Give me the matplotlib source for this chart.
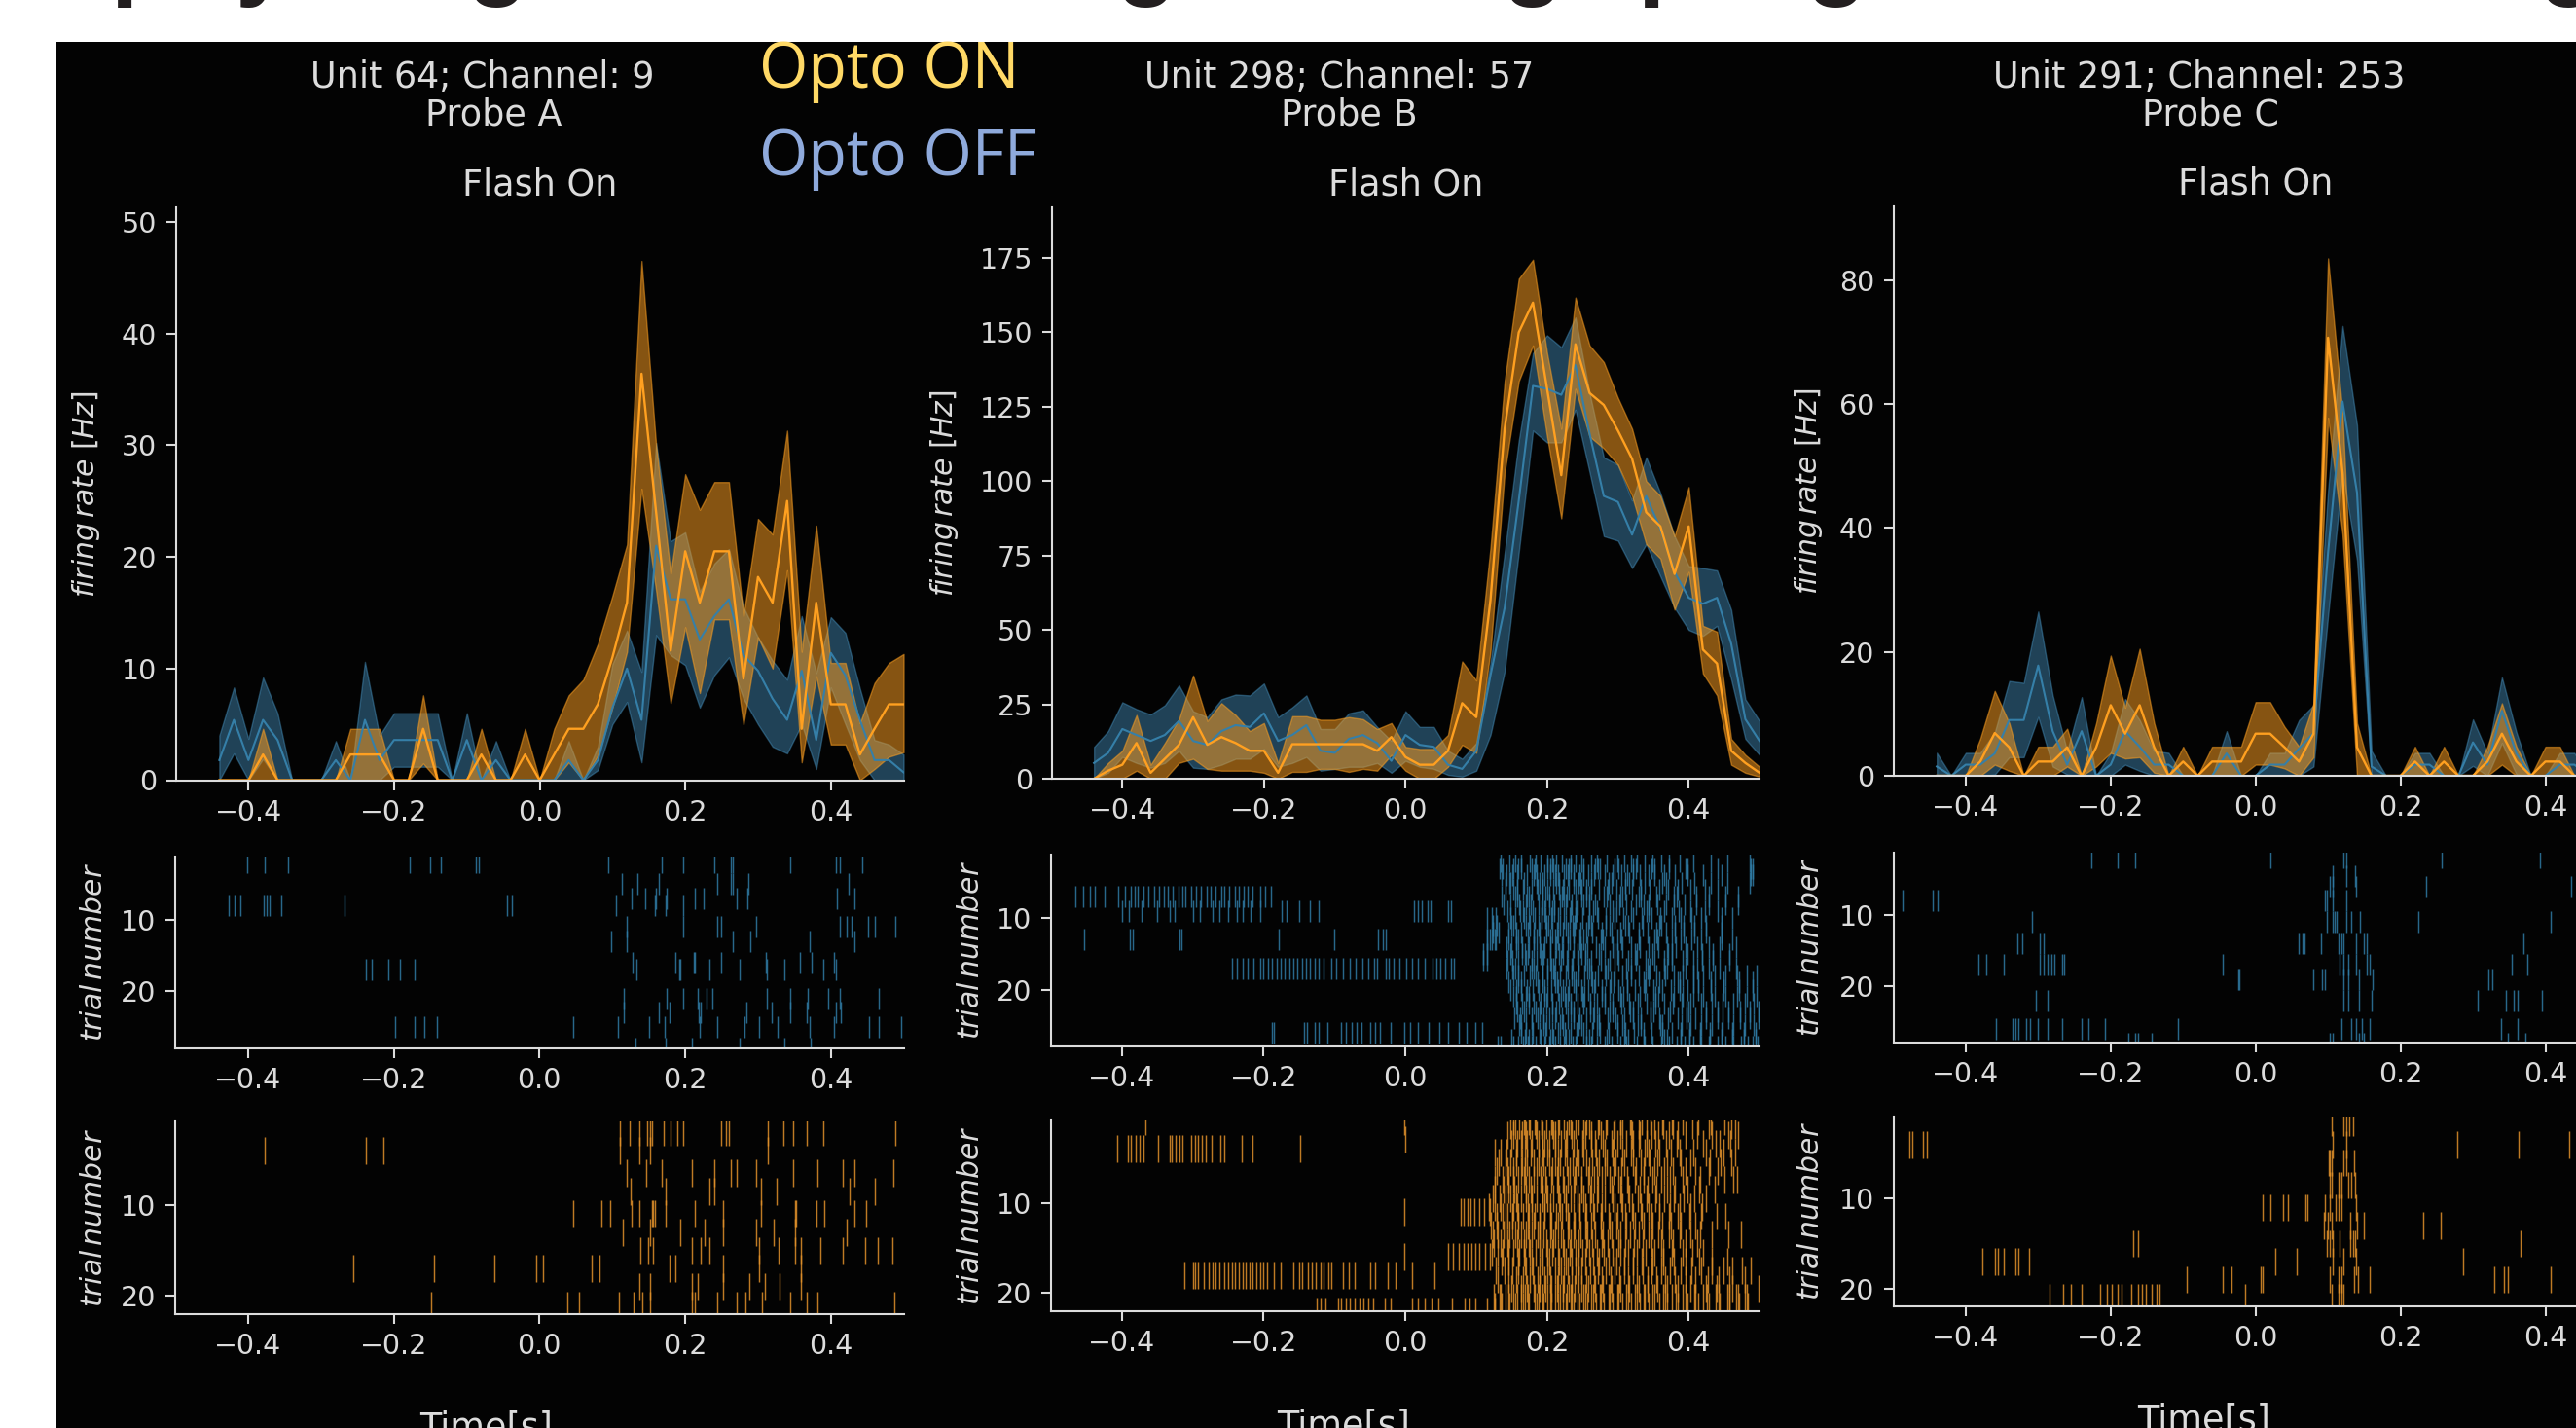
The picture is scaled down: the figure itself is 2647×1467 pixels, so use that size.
import matplotlib
matplotlib.use('Agg')
import matplotlib.pyplot as plt
from matplotlib.patches import Rectangle

W, H = 2647, 1467
BG = '#030303'
FG = '#dcdcdc'
BLUE = '#4a9bcc'
BLUE_LINE = '#357fa8'
ORANGE = '#ffa020'
BLUE_TICK = '#2f7aa3'
ORANGE_TICK = '#e0902a'

time_bins = [-0.44, -0.42, -0.40, -0.38, -0.36, -0.34, -0.32, -0.30, -0.28, -0.26, -0.24, -0.22,
             -0.20, -0.18, -0.16, -0.14, -0.12, -0.10, -0.08, -0.06, -0.04, -0.02, 0.00, 0.02,
             0.04, 0.06, 0.08, 0.10, 0.12, 0.14, 0.16, 0.18, 0.20, 0.22, 0.24, 0.26,
             0.28, 0.30, 0.32, 0.34, 0.36, 0.38, 0.40, 0.42, 0.44, 0.46, 0.48, 0.50]

# firing rate, probe A
a_off_mean = [1.8, 5.4, 1.8, 5.4, 3.6, 0, 0, 0, 1.8, 0, 5.4, 1.8,
              3.6, 3.6, 3.6, 3.6, 0, 3.6, 0, 1.8, 0, 0, 0, 0,
              1.8, 0, 1.8, 6.5, 10, 5.4, 21, 16.2, 16.2, 12.6, 14.7, 16.2,
              11.2, 9.8, 7.3, 5.4, 9.8, 3.6, 11.4, 9.4, 5.4, 1.8, 1.8, 0.7]
a_off_up = [4, 8.3, 3.7, 9.2, 6, 0, 0, 0, 3.5, 0, 10.6, 4,
            6, 6, 6, 6, 0, 6, 0, 3.5, 0, 0, 0, 0,
            3.5, 0, 3, 10.4, 13.4, 9.7, 30.2, 21.4, 22.2, 16.9, 19.4, 20.7,
            15.5, 12.8, 10.7, 9, 14.7, 9.6, 14.6, 13.2, 8.2, 3.6, 3.2, 2.3]
a_off_low = [0, 2.4, 0, 1.9, 0, 0, 0, 0, 0, 0, 0, 0,
             1.2, 1.2, 1.2, 1.2, 0, 0, 0, 0, 0, 0, 0, 0,
             0, 0, 0.9, 5, 7, 1.6, 13, 11.2, 10.3, 6.5, 9.4, 11,
             7.3, 5, 3, 2.4, 5, 1, 8.3, 5, 1.8, 0, 0, 0]
a_on_mean = [0, 0, 0, 2.3, 0, 0, 0, 0, 0, 2.3, 2.3, 2.3,
             0, 0, 4.6, 0, 0, 0, 2.3, 0, 0, 2.3, 0, 2.3,
             4.6, 4.6, 6.8, 11, 15.9, 36.4, 24, 11.6, 20.5, 15.9, 20.5, 20.5,
             9.1, 18.2, 15.9, 25, 4.6, 15.9, 6.8, 6.8, 2.3, 4.6, 6.8, 6.8]
a_on_up = [0, 0, 0, 4.6, 0, 0, 0, 0, 0, 4.6, 4.6, 4.6,
           0, 0, 7.6, 0, 0, 0, 4.6, 0, 0, 4.6, 0, 4.6,
           7.6, 9, 12.2, 16.5, 21.1, 46.5, 30, 18.5, 27.4, 24.2, 26.7, 26.7,
           14.7, 23.4, 22, 31.3, 11.5, 22.8, 10.5, 10.5, 5.1, 8.7, 10.5, 11.3]
a_on_low = [0, 0, 0, 0, 0, 0, 0, 0, 0, 0, 0, 0,
            0, 0, 1.5, 0, 0, 0, 0, 0, 0, 0, 0, 0,
            1.6, 0, 2.2, 6.5, 11.5, 26.1, 17, 6.9, 13.7, 7.8, 14.4, 14.4,
            5, 12.8, 10, 18.8, 1.6, 9.3, 3.2, 3.2, 0, 1, 2.1, 2.5]

# firing rate, probe B
b_off_mean = [5.3, 8.7, 16.7, 14.7, 12.7, 14.7, 19.4, 12.7, 11.4, 16, 18, 17.4,
              22, 12.7, 14.7, 18, 9.4, 8.7, 13.4, 14.7, 12, 6, 14.7, 11.4,
              10.7, 4.7, 3.3, 9.4, 34.7, 57.4, 93.5, 132, 131, 129, 139, 116,
              95, 93, 82, 95, 84, 69.5, 60.8, 58.8, 60.8, 45.4, 20, 12.7]
b_off_up = [10.7, 16, 25.7, 23.4, 21.6, 24.7, 31.4, 22.7, 20.7, 26.7, 28.3, 28,
            32, 20.7, 24, 28, 16.7, 16.7, 22, 23, 17.4, 12.7, 22.7, 17.4,
            17.4, 9.4, 6.7, 12, 38.7, 76, 113.6, 143, 149, 145, 155, 129.6,
            108, 105.5, 93.5, 108, 96, 81.5, 71.5, 70.8, 70, 56.8, 26.7, 19.4]
b_off_low = [0, 2, 7.3, 5.3, 3.7, 5.3, 9.4, 3.7, 3.3, 4.7, 6.7, 6.7,
             10, 4, 5.3, 7.3, 2.7, 3.3, 4, 4, 5.3, 2, 6, 4,
             3.3, 1.3, 0.7, 2.7, 14.7, 36, 76, 117, 113, 113, 124, 103,
             81.5, 80, 70.8, 78.8, 68, 57.4, 50, 48, 51.4, 33.4, 13.4, 8]
b_on_mean = [0, 2.7, 4.7, 12, 2, 6.7, 11.4, 20.7, 11.4, 14, 12, 9.4,
             9.4, 2, 11.6, 11.6, 11.6, 11.6, 11.6, 11.6, 9.4, 14, 7.3, 4.7,
             4.7, 9.4, 25.4, 20.7, 60, 117.6, 150, 160, 131, 102, 146, 129.6,
             125.6, 117, 107.5, 89.5, 84.8, 68.8, 84.8, 43.4, 38.7, 9.4, 5.3, 2]
b_on_up = [0, 5.3, 9.4, 21.4, 4.7, 12, 20, 34.7, 19.4, 25.4, 21.4, 16,
           18.7, 5.3, 21, 21, 19.8, 19.8, 20.7, 20, 16.7, 18.7, 10.7, 10,
           10, 14.7, 39.4, 33, 77.5, 133.6, 168, 174.4, 143, 117.6, 161.7, 145.6,
           140, 128, 117.6, 100, 95, 81.5, 98, 51.4, 49.4, 13.4, 8, 4]
b_on_low = [0, 0, 0, 2.7, 0, 0, 5.3, 6.7, 3.3, 2.7, 2.7, 2.7,
            2, 0, 2.3, 2.3, 3.3, 3.3, 2.3, 3.3, 2.7, 8, 2.7, 0,
            0, 4, 11.4, 8.7, 42.8, 103, 133.6, 145.6, 115, 87.5, 131, 115,
            111, 105.5, 95, 78.8, 74, 56.8, 69.5, 35.4, 28, 4.7, 2, 0.7]

# firing rate, probe C (runs off the right edge of the picture)
c_off_mean = [1.5, 0, 1.8, 1.8, 3.6, 9, 9, 17.8, 7.2, 1.8, 7.2, 0,
              1.8, 7.2, 4.7, 1.8, 1.8, 0, 0, 0, 3.6, 0, 0, 1.8,
              1.8, 4.4, 6.9, 36, 60.4, 45.7, 1.5, 0, 0, 1.8, 1.8, 0,
              0, 5.4, 1.8, 10.5, 3.6, 0, 0, 1.8, 1.8, 0]
c_off_up = [3.7, 0, 3.7, 3.7, 7, 15.3, 15, 26.5, 13, 4, 12.7, 0,
            3.7, 12.4, 9, 4, 3.7, 0, 0, 0, 7.2, 0, 0, 3.7,
            3.7, 9, 11.4, 46, 72.6, 56.6, 4, 0, 0, 3.7, 3.7, 0,
            0, 9.1, 3.7, 15.9, 7, 0, 0, 3.7, 3.7, 0]
c_off_low = [0, 0, 0, 0, 0.2, 3, 3, 9.5, 1.5, 0.2, 0, 0,
             0, 1.8, 0.8, 0, 0, 0, 0, 0, 0, 0, 0, 0,
             0, 0, 1.5, 25.8, 49, 34.8, 0, 0, 0, 0, 0, 0,
             0, 1.6, 0, 5.3, 0.2, 0, 0, 0, 0, 0]
c_on_mean = [0, 0, 0, 2.3, 6.9, 4.6, 0, 2.3, 2.3, 4.6, 0, 4.6,
             11.4, 6.8, 11.4, 4.6, 0, 2.3, 0, 2.3, 2.3, 2.3, 6.8, 6.8,
             4.6, 2.3, 6.8, 70.7, 49, 4.6, 0, 0, 0, 2.3, 0, 2.3,
             0, 0, 2.3, 6.8, 2.3, 0, 2.3, 2.3, 0, 0]
c_on_up = [0, 0, 0, 6, 13.7, 8.5, 0, 4.7, 4.7, 7.6, 0, 8.5,
           19.4, 11, 20.5, 8.5, 0, 4.7, 0, 4.7, 4.7, 4.7, 11.9, 11.9,
           7.9, 4.7, 11.7, 83.5, 58.5, 8.5, 0, 0, 0, 4.7, 0, 4.7,
           0, 0, 4.7, 11.7, 4.7, 0, 4.7, 4.7, 0, 0]
c_on_low = [0, 0, 0, 0, 1.8, 0.8, 0, 0, 0, 1.5, 0, 1.5,
            3.7, 2.8, 3, 0.5, 0, 0, 0, 0, 0, 0, 1.8, 1.8,
            1.2, 0, 3, 57.8, 39, 0, 0, 0, 0, 0, 0, 0,
            0, 0, 0, 1.8, 0, 0, 0, 0, 0, 0]

# raster rows (trial) and spike times in ms
a_off_rows = [2, 5, 7, 8, 11, 13, 16, 17, 21, 23, 25, 28]
a_off_spikes = [
    [-401, -377, -345, -178, -150, -135, -87, -83, 95, 168, 198, 240, 263, 266, 344, 407, 413, 443],
    [113, 134, 164, 244, 263, 265, 287, 424],
    [126, 145, 160, 175, 214, 225, 271, 286, 409, 432],
    [-426, -418, -410, -379, -374, -370, -355, -267, -44, -38, 105, 158, 174, 198],
    [120, 198, 244, 250, 298, 413, 422, 428, 451, 460, 489],
    [99, 120, 266, 290, 371, 432],
    [128, 187, 212, 214, 250, 311, 358, 374, 404],
    [-238, -230, -208, -192, -172, 133, 192, 194, 233, 275, 312, 336, 390, 407],
    [116, 175, 197, 217, 229, 237, 312, 344, 368, 396, 413, 466],
    [116, 164, 179, 219, 221, 284, 319, 344, 367, 407, 414],
    [-198, -172, -158, -140, 47, 108, 150, 172, 220, 244, 281, 302, 327, 371, 405, 453, 466, 497],
    [132, 174, 210, 275, 336, 373],
]
a_on_rows = [2, 4, 6.5, 8.5, 11, 13, 15, 17, 19, 21]
a_on_spikes = [
    [110, 124, 137, 148, 152, 155, 171, 180, 190, 198, 250, 256, 260, 313, 335, 348, 367, 390, 489],
    [-377, -238, -214, 110, 137, 152, 313],
    [120, 146, 168, 210, 240, 263, 271, 298, 348, 382, 416, 432, 486],
    [125, 174, 233, 240, 304, 325, 426, 460],
    [47, 85, 97, 126, 137, 154, 156, 158, 174, 214, 252, 304, 351, 353, 381, 391, 432, 449],
    [114, 152, 194, 227, 252, 298, 321, 351, 422],
    [139, 149, 156, 210, 221, 233, 301, 328, 351, 359, 386, 417, 447, 465, 485],
    [-255, -145, -62, -5, 5, 72, 82, 179, 187, 252, 301, 359],
    [137, 152, 210, 217, 252, 288, 310, 329, 359],
    [-148, 39, 54, 109, 129, 141, 152, 210, 214, 244, 271, 283, 305, 344, 367, 382, 487],
]

b_off_rows = [7, 9, 13, 17, 26,
              4, 2, 8, 6, 12, 10, 16, 14, 20, 18, 24, 22, 26, 28,
              3, 5, 7, 9, 11, 13, 15, 17, 19, 21, 23, 25, 27, 28]
b_off_spikes = [
    [-465, -455, -445, -438, -425, -405, -395, -388, -382, -378, -370, -362, -355, -348, -340, -335, -328, -320, -315, -310, -302, -296, -288, -280, -275, -268, -260, -255, -248, -240, -235, -228, -222, -215, -205, -198, -190],
    [-400, -390, -372, -350, -333, -325, -300, -290, -272, -262, -250, -238, -230, -218, -205, -175, -168, -150, -135, -122, 12, 18, 24, 32, 36, 60, 65],
    [-453, -389, -384, -319, -316, -178, -100, -38, -31, -27, 115, 120, 126],
    [-244, -238, -230, -222, -214, -205, -200, -194, -188, -182, -176, -170, -164, -158, -152, -146, -140, -134, -128, -122, -115, -105, -98, -88, -78, -70, -60, -52, -44, -40, -28, -24, -16, -8, 2, 10, 18, 28, 38, 44, 50, 56, 64, 68],
    [-188, -185, -143, -139, -128, -122, -110, -90, -84, -76, -68, -62, -50, -42, -36, -21, -1, 7, 18, 33, 48, 61, 76, 86, 99, 109],
    [136, 143, 151, 158, 172, 181, 186, 197, 204, 211, 216, 224, 229, 238, 246, 251, 258, 266, 281, 292, 305, 313, 322, 331, 344, 352, 366, 381, 398, 421, 447, 487, 491],
    [134, 147, 155, 163, 176, 184, 191, 200, 208, 213, 221, 233, 241, 249, 262, 271, 284, 299, 309, 318, 327, 338, 349, 361, 372, 388, 407, 432, 455, 486],
    [139, 149, 161, 170, 177, 188, 194, 203, 210, 218, 226, 235, 243, 252, 260, 268, 289, 302, 312, 325, 336, 343, 356, 368, 379, 394, 411, 428, 452, 470],
    [141, 152, 158, 166, 179, 187, 193, 201, 209, 217, 223, 231, 240, 248, 256, 263, 273, 286, 298, 311, 320, 333, 345, 359, 371, 384, 402, 423, 441],
    [124, 132, 146, 156, 164, 173, 182, 190, 199, 207, 214, 222, 230, 237, 247, 255, 264, 278, 291, 303, 316, 329, 342, 355, 368, 380, 393, 408, 425, 447],
    [116, 122, 128, 148, 155, 167, 175, 183, 192, 198, 206, 215, 224, 232, 241, 250, 259, 272, 283, 296, 308, 321, 334, 347, 360, 377, 389, 404, 418, 446, 462],
    [110, 116, 144, 151, 159, 170, 178, 186, 194, 205, 212, 220, 228, 236, 245, 254, 263, 276, 288, 301, 314, 326, 339, 351, 365, 376, 391, 407, 419, 434, 458],
    [143, 150, 157, 165, 174, 181, 189, 196, 204, 213, 221, 229, 238, 247, 257, 269, 281, 293, 306, 319, 331, 344, 357, 369, 382, 395, 412, 428, 443, 467],
    [148, 156, 164, 172, 180, 188, 197, 206, 215, 223, 231, 240, 249, 258, 267, 277, 289, 301, 313, 324, 338, 350, 362, 375, 387, 399, 414, 431, 449, 471, 490],
    [152, 160, 168, 176, 184, 193, 201, 210, 219, 227, 235, 244, 253, 262, 272, 283, 295, 307, 318, 330, 343, 355, 367, 379, 392, 406, 421, 437, 452, 468, 482, 496],
    [154, 162, 170, 179, 187, 195, 203, 212, 221, 229, 237, 246, 255, 265, 274, 286, 297, 309, 321, 333, 346, 358, 371, 384, 397, 410, 424, 441, 456, 473, 486, 499],
    [157, 165, 174, 182, 191, 199, 208, 217, 226, 234, 243, 251, 261, 270, 282, 293, 305, 316, 328, 341, 353, 365, 378, 390, 403, 417, 433, 448, 463, 479, 492],
    [163, 171, 180, 190, 198, 207, 216, 225, 233, 242, 252, 264, 275, 287, 299, 311, 323, 336, 348, 363, 376, 389, 401, 416, 430, 447, 461, 478, 494],
    [131, 152, 166, 173, 184, 196, 211, 224, 241, 256, 271, 291, 304, 327, 349, 372, 394, 417, 441, 463, 484, 497],
    [133, 137, 152, 160, 163, 178, 183, 201, 205, 209, 226, 231, 234, 252, 268, 272, 275, 296, 301, 322, 326, 347, 351, 372, 395, 399, 441, 487, 491],
    [141, 147, 149, 168, 186, 190, 194, 213, 217, 238, 244, 247, 263, 287, 291, 311, 316, 338, 362, 368, 390, 408, 432, 455, 486],
    [136, 155, 158, 172, 175, 198, 203, 221, 224, 228, 249, 256, 259, 280, 284, 303, 307, 330, 333, 355, 379, 383, 411, 428, 452, 470],
    [144, 162, 166, 180, 192, 196, 207, 210, 233, 240, 242, 265, 270, 293, 298, 318, 341, 344, 366, 386, 402, 423, 441],
    [124, 129, 150, 153, 170, 176, 188, 199, 202, 219, 227, 236, 239, 258, 262, 283, 289, 310, 314, 335, 358, 361, 380, 393, 408, 425, 447],
    [116, 122, 128, 146, 157, 160, 181, 185, 204, 212, 215, 232, 246, 251, 276, 279, 300, 305, 329, 352, 356, 377, 389, 404, 418, 446, 462],
    [110, 116, 148, 165, 169, 173, 191, 195, 217, 222, 243, 248, 254, 273, 296, 299, 324, 327, 349, 371, 376, 398, 419, 434, 458],
    [143, 151, 155, 178, 182, 200, 206, 209, 230, 235, 257, 260, 281, 286, 312, 319, 342, 345, 365, 369, 395, 412, 428, 443, 467],
    [146, 159, 163, 187, 193, 211, 214, 237, 241, 264, 268, 290, 294, 313, 336, 339, 359, 384, 387, 406, 414, 431, 449, 471, 490],
    [152, 156, 171, 175, 197, 201, 220, 225, 229, 250, 253, 277, 282, 304, 308, 331, 353, 357, 379, 392, 406, 421, 437, 452, 468, 482, 496],
    [158, 167, 184, 189, 208, 213, 234, 237, 261, 266, 288, 292, 317, 321, 346, 350, 374, 397, 400, 424, 441, 456, 473, 486, 499],
    [161, 164, 179, 195, 199, 218, 223, 245, 249, 271, 274, 300, 306, 328, 333, 360, 363, 390, 403, 417, 433, 448, 463, 479, 492],
    [150, 169, 174, 191, 205, 209, 226, 231, 255, 259, 285, 309, 315, 337, 366, 370, 389, 401, 416, 430, 447, 461, 478, 494],
    [135, 159, 178, 203, 219, 236, 263, 281, 312, 338, 361, 383, 406, 429, 452, 474, 491],
]
b_on_rows = [1, 3, 4, 11, 16, 18, 22,
             3.5, 1.5, 7.5, 5.5, 11.5, 9.5, 15.5, 13.5, 19.5, 17.5, 21.5, 20.5,
             1, 2.5, 4.5, 6.5, 8.5, 10.5, 12.5, 14.5, 16.5, 18.5, 20.5]
b_on_spikes = [
    [-367, -2],
    [0],
    [-407, -392, -388, -380, -375, -370, -349, -333, -330, -324, -318, -314, -302, -297, -292, -287, -282, -273, -261, -255, -231, -216, -148],
    [-2, 78, 82, 88, 92, 97, 105, 111, 120],
    [-2, 61, 67, 75, 82, 88, 94, 99, 105, 112, 120],
    [-312, -300, -297, -293, -285, -278, -272, -268, -262, -256, -250, -245, -240, -235, -230, -225, -220, -215, -210, -205, -200, -195, -185, -176, -158, -150, -145, -138, -132, -126, -120, -115, -108, -104, -88, -80, -72, -50, -42, -25, -14, 10, 41],
    [-125, -120, -112, -95, -91, -84, -78, -72, -65, -59, -52, -46, -29, -21, 9, 18, 28, 37, 47, 66, 84, 90, 99, 116, 126],
    [150, 158, 163, 172, 179, 188, 197, 203, 212, 220, 226, 238, 250, 262, 268, 279, 291, 299, 312, 322, 330, 341, 353, 368, 383, 420, 438, 444, 459],
    [148, 155, 161, 169, 176, 184, 192, 199, 207, 216, 224, 233, 241, 252, 260, 272, 283, 295, 306, 318, 329, 340, 352, 364, 378, 405, 428, 460, 466],
    [127, 138, 146, 153, 160, 167, 175, 182, 191, 198, 206, 214, 222, 230, 239, 248, 258, 267, 278, 289, 301, 313, 324, 336, 349, 361, 374, 391, 416, 451, 463, 468],
    [132, 141, 149, 157, 165, 172, 181, 188, 195, 203, 211, 219, 228, 236, 245, 255, 264, 274, 285, 297, 309, 321, 333, 345, 356, 370, 389, 403, 430, 445, 460],
    [129, 137, 144, 151, 159, 166, 174, 183, 190, 197, 205, 213, 221, 229, 237, 246, 256, 266, 276, 287, 299, 310, 322, 334, 347, 359, 372, 385, 401, 418, 440, 452],
    [124, 133, 141, 148, 156, 163, 170, 178, 186, 194, 201, 209, 217, 226, 234, 243, 252, 261, 271, 282, 293, 305, 316, 328, 340, 353, 366, 379, 393, 408, 425],
    [122, 130, 138, 146, 153, 161, 168, 176, 184, 192, 200, 208, 216, 224, 232, 241, 250, 260, 270, 280, 292, 303, 315, 327, 339, 351, 364, 377, 391, 405, 421],
    [124, 131, 139, 147, 155, 163, 171, 179, 187, 195, 204, 212, 220, 229, 238, 247, 257, 268, 279, 291, 304, 317, 330, 343, 357, 372, 387, 403, 416, 433, 456, 474],
    [150, 163, 172, 181, 190, 198, 206, 214, 222, 231, 239, 248, 258, 268, 279, 291, 303, 316, 329, 342, 356, 369, 384, 402, 425, 440, 462, 498],
    [128, 140, 151, 160, 171, 180, 190, 200, 211, 220, 229, 240, 249, 261, 272, 283, 296, 309, 322, 335, 347, 361, 374, 389, 404, 418, 433, 449, 461, 475, 487],
    [127, 136, 147, 155, 166, 175, 186, 195, 206, 216, 226, 237, 246, 257, 269, 280, 293, 306, 318, 331, 344, 358, 370, 385, 399, 413, 428, 444, 457, 471, 484],
    [125, 134, 145, 158, 169, 183, 194, 204, 218, 228, 235, 251, 263, 276, 289, 301, 314, 327, 338, 352, 367, 382, 396, 410, 426, 442, 458, 470, 482],
    [153, 167, 175, 183, 192, 206, 217, 231, 244, 256, 273, 285, 303, 317, 334, 346, 362, 376, 392, 413, 431, 451],
    [144, 152, 165, 171, 186, 193, 209, 211, 228, 235, 254, 263, 276, 294, 304, 320, 331, 347, 357, 372, 385, 396, 412, 433, 456, 470],
    [126, 135, 143, 156, 169, 177, 194, 200, 216, 225, 242, 251, 269, 281, 292, 307, 319, 338, 343, 358, 375, 388, 406, 425, 449, 466],
    [129, 144, 152, 163, 169, 186, 192, 208, 215, 232, 241, 259, 270, 282, 294, 305, 326, 337, 351, 365, 378, 395, 410, 428, 441],
    [127, 139, 146, 154, 170, 177, 193, 199, 215, 224, 238, 249, 263, 272, 291, 303, 314, 331, 342, 355, 369, 381, 398, 415, 437],
    [118, 127, 135, 152, 158, 173, 179, 196, 204, 219, 227, 246, 254, 265, 278, 295, 307, 320, 332, 344, 358, 373, 387, 402, 419],
    [121, 129, 142, 151, 160, 173, 181, 190, 206, 215, 231, 239, 254, 263, 276, 288, 298, 312, 324, 336, 349, 362, 375, 389, 410],
    [125, 135, 144, 158, 167, 174, 190, 199, 209, 222, 233, 245, 255, 264, 277, 286, 301, 311, 323, 335, 348, 361, 378, 395, 412],
    [136, 146, 159, 169, 178, 194, 203, 217, 226, 235, 244, 254, 265, 274, 287, 298, 309, 321, 334, 349, 364, 379, 396, 415, 433, 454],
    [131, 145, 156, 166, 176, 187, 197, 205, 216, 224, 235, 245, 256, 266, 278, 290, 302, 315, 327, 342, 354, 367, 381, 396, 410, 427, 442, 458, 480],
    [133, 142, 153, 163, 173, 188, 200, 212, 222, 233, 243, 254, 265, 275, 287, 299, 312, 324, 336, 349, 364, 377, 392, 408, 421, 438, 454, 467, 479],
]

c_off_rows = [2, 4.5, 6, 8, 11, 14, 17, 19, 22, 26, 28]
c_off_spikes = [
    [-227, -191, -166, 20, 121, 125, 257, 393],
    [106, 125, 137],
    [103, 107, 139, 236, 436],
    [-487, -445, -439, 96, 99, 107, 125],
    [-309, 99, 107, 109, 112, 125, 132, 144, 225, 407],
    [-329, -322, -298, -293, 60, 65, 68, 91, 114, 118, 121, 139, 150, 154, 370],
    [-382, -372, -347, -298, -293, -287, -282, -278, -267, -264, -46, 116, 121, 128, 139, 154, 158, 354, 375],
    [-24, -22, 79, 92, 96, 121, 128, 143, 161, 321, 327],
    [-303, -287, 121, 128, 143, 160, 306, 346, 356, 361, 395],
    [-358, -336, -332, -327, -317, -311, -300, -287, -267, -240, -231, -208, -107, 118, 132, 139, 147, 158, 339, 361],
    [-176, -166, -162, -144, 102, 107, 143, 150, 348, 373],
]
c_on_rows = [1.5, 4, 6, 8.5, 11, 13, 15, 17, 19, 21]
c_on_spikes = [
    [105, 121, 125, 129, 134],
    [-478, -474, -459, -454, 107, 125, 279, 363, 433],
    [101, 103, 105, 121, 125, 136],
    [102, 105, 114, 116, 119, 128, 132, 137],
    [10, 20, 38, 44, 69, 72, 96, 103, 110, 114, 118, 139],
    [95, 100, 105, 130, 140, 150, 232, 256],
    [-169, -162, 98, 103, 107, 116, 131, 134, 138, 366],
    [-377, -360, -356, -348, -332, -327, -313, 27, 57, 107, 121, 139, 287],
    [-95, -46, -33, 7, 10, 103, 114, 119, 136, 142, 158, 330, 343, 348, 407],
    [-284, -266, -255, -240, -215, -205, -198, -191, -185, -171, -162, -157, -152, -144, -136, -132, -15, 105, 114, 118, 121],
]

x_ticks = [-0.4, -0.2, 0.0, 0.2, 0.4]
heading_glyphs = ['p', 'y', 'g', 'g', 'g', 'p', 'g', 'g']
unit_titles = ['Unit 64; Channel: 9', 'Unit 298; Channel: 57', 'Unit 291; Channel: 253']
probe_titles = ['Probe A', 'Probe B', 'Probe C']


def px_axes(fig, left, top, right, bottom):
    ax = fig.add_axes([left / W, 1 - bottom / H, (right - left) / W, (bottom - top) / H])
    ax.patch.set_alpha(0)
    for s in ['top', 'right']:
        ax.spines[s].set_visible(False)
    for s in ['left', 'bottom']:
        ax.spines[s].set_color(FG)
        ax.spines[s].set_linewidth(1.5)
    ax.tick_params(colors=FG, labelsize=20.5, length=7, width=1.5, pad=7)
    ax.set_xlim(-0.5, 0.5)
    ax.set_xticks(x_ticks)
    return ax


def rate_panel(fig, box, ylim, yticks, off, on, label_x):
    ax = px_axes(fig, *box)
    t_off = time_bins[:len(off[0])]
    ax.fill_between(t_off, off[2], off[1], color=BLUE, alpha=0.42, lw=1)
    ax.plot(t_off, off[0], color=BLUE_LINE, lw=1.5)
    ax.fill_between(t_off, on[2], on[1], color=ORANGE, alpha=0.52, lw=1)
    ax.plot(t_off, on[0], color=ORANGE, lw=1.7)
    ax.set_ylim(0, ylim)
    ax.set_yticks(yticks)
    ax.set_ylabel(r'$firing\,rate\ [Hz]$', fontsize=21.5, color=FG)
    ax.yaxis.set_label_coords((label_x - box[0]) / (box[2] - box[0]), 0.5)
    ax.set_title('Flash On', fontsize=26.3, color=FG, pad=9)
    return ax


def raster_panel(fig, box, ylim, rows, spikes, color, label_x):
    ax = px_axes(fig, *box)
    times = [[ms / 1000 for ms in row] for row in spikes]
    ax.eventplot(times, lineoffsets=rows, linelengths=3, colors=color, linewidths=1.05, alpha=0.85)
    ax.set_xlim(-0.5, 0.5)
    ax.set_ylim(*ylim)
    ax.set_yticks([10, 20])
    ax.set_ylabel(r'$trial\,number$', fontsize=21.5, color=FG)
    ax.yaxis.set_label_coords((label_x - box[0]) / (box[2] - box[0]), 0.5)
    return ax


fig = plt.figure(figsize=(W / 100, H / 100), dpi=100, facecolor='white')
fig.add_artist(Rectangle((58 / W, 0), 1 - 58 / W, 1 - 43 / H, transform=fig.transFigure,
                         facecolor=BG, edgecolor='none', zorder=-1))

# top panels
rate_panel(fig, (180.5, 213, 928.5, 801.5), 51.3, [0, 10, 20, 30, 40, 50],
           (a_off_mean, a_off_up, a_off_low), (a_on_mean, a_on_up, a_on_low), 105)
rate_panel(fig, (1080.5, 213, 1808, 800), 192, [0, 25, 50, 75, 100, 125, 150, 175],
           (b_off_mean, b_off_up, b_off_low), (b_on_mean, b_on_up, b_on_low), 987)
rate_panel(fig, (1945.5, 212, 2690, 797), 91.9, [0, 20, 40, 60, 80],
           (c_off_mean, c_off_up, c_off_low), (c_on_mean, c_on_up, c_on_low), 1875)

# rasters, opto off then opto on
raster_panel(fig, (180, 879.5, 928.5, 1076.5), (27.9, 1.13), a_off_rows, a_off_spikes, BLUE_TICK, 111)
raster_panel(fig, (180, 1152, 928.5, 1350), (22, 0.78), a_on_rows, a_on_spikes, ORANGE_TICK, 111)
raster_panel(fig, (1080, 878.5, 1808, 1074.5), (27.9, 1.18), b_off_rows, b_off_spikes, BLUE_TICK, 1012)
raster_panel(fig, (1080, 1150.5, 1808, 1347), (22, 0.85), b_on_rows, b_on_spikes, ORANGE_TICK, 1012)
raster_panel(fig, (1945.5, 875.5, 2690, 1071), (27.9, 1.2), c_off_rows, c_off_spikes, BLUE_TICK, 1875)
raster_panel(fig, (1945.5, 1147, 2690, 1342), (22, 0.85), c_on_rows, c_on_spikes, ORANGE_TICK, 1875)


def ptext(x, y, s, **kw):
    fig.text(x / W, 1 - y / H, s, **kw)


for x, s in zip([496, 1376, 2260], unit_titles):
    ptext(x, 79, s, ha='center', va='center', fontsize=26.3, color=FG)
for x, s in zip([507, 1386, 2271], probe_titles):
    ptext(x, 118, s, ha='center', va='center', fontsize=26.3, color=FG)
for x, y in zip([500, 1381, 2265], [1448, 1446, 1440]):
    ptext(x, y, 'Time[s]', ha='center', va='top', fontsize=26.3, color=FG)

ptext(780, 90, 'Opto ON', fontsize=46.5, family='Open Sans', color='#ffd966', va='baseline')
ptext(780, 180, 'Opto OFF', fontsize=46.5, family='Open Sans', color='#8faadc', va='baseline')

# only the descenders of the cropped heading show above the black area
for x, s in zip([145, 270, 511, 1178, 1575, 1714, 1887, 2640], heading_glyphs):
    ptext(x, -14, s, ha='center', va='baseline', fontsize=74, fontweight='bold',
          family='Liberation Sans', color='#231f20')

fig.savefig('out.png', dpi=100, facecolor='white')
